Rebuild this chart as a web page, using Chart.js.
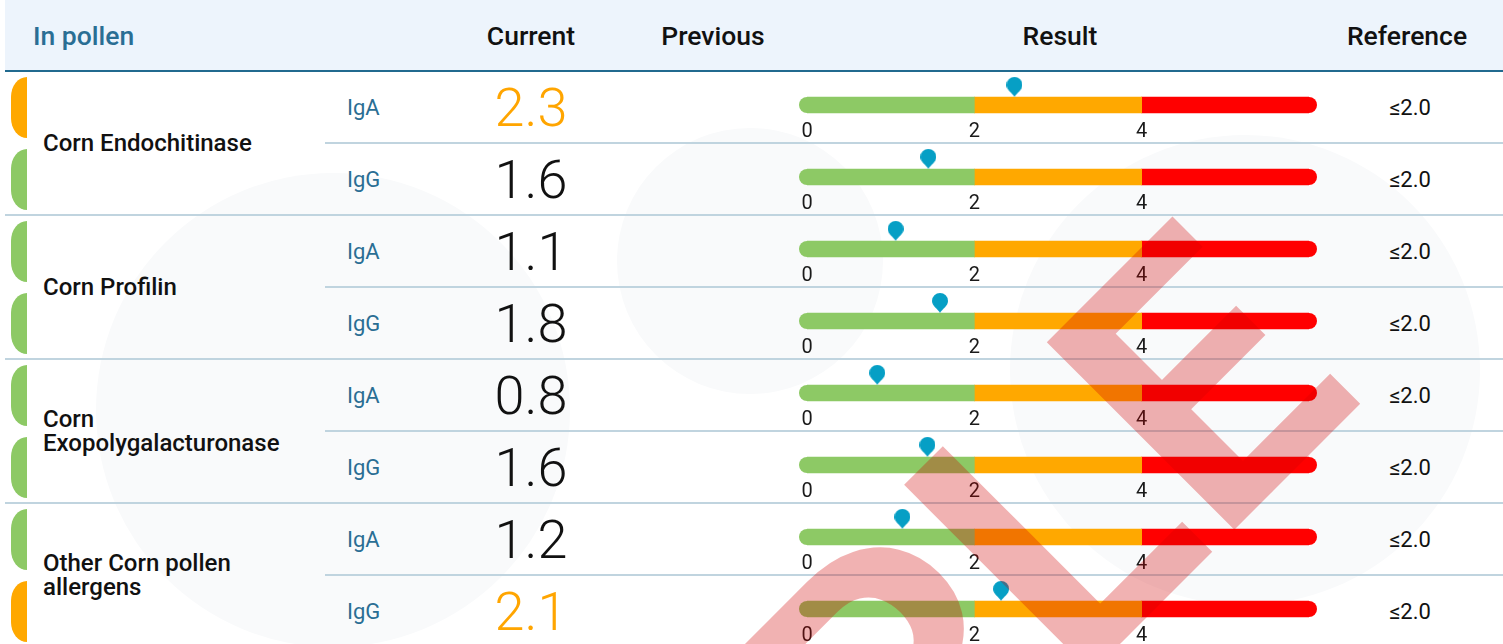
<!DOCTYPE html>
<html>
<head>
<meta charset="utf-8">
<script src="https://cdn.jsdelivr.net/npm/chart.js@4.4.0/dist/chart.umd.min.js"></script>
<style>
  body { margin: 0; width: 1503px; height: 644px; overflow: hidden; background: #fff; font-family: Roboto, sans-serif; position: relative; }
  #bg, #wm { position: absolute; left: 0; top: 0; }
  #wm { pointer-events: none; z-index: 10; }
  #table { position: absolute; left: 0; top: 0; width: 1503px; height: 644px; z-index: 1; }
  .head { position: absolute; left: 5px; top: 0; width: 1498px; height: 70px; background: #edf4fc; border-bottom: 2px solid #216a8f; }
  .hcell { position: absolute; top: 1px; height: 70px; line-height: 70px; font-size: 26.5px; font-weight: 500; color: #111; white-space: nowrap; }
  .hc { transform: translateX(-50%); }
  .line { position: absolute; height: 2px; background: #c0d4df; }
  .tab { position: absolute; left: 11px; width: 16px; height: 61px; border-radius: 16px 0 0 16px / 20px 0 0 20px; }
  .group { position: absolute; left: 43px; width: 250px; display: flex; align-items: center; font-size: 24px; line-height: 24px; font-weight: 500; color: #111; }
  .sub { position: absolute; left: 347px; height: 70px; line-height: 70px; font-size: 22px; color: #2a6e94; }
  .cur { position: absolute; height: 70px; line-height: 70px; font-size: 54px; font-weight: 300; transform: translateX(-50%); }
  .ref { position: absolute; height: 70px; line-height: 70px; font-size: 22px; color: #111; transform: translateX(-50%); }
  .res { position: absolute; left: 780px; width: 560px; height: 70px; }
</style>
</head>
<body>
<svg id="bg" width="1503" height="644">
  <circle cx="333" cy="410" r="237" fill="#f9fafb"/>
  <circle cx="750" cy="261" r="133" fill="#f9fafb"/>
  <circle cx="1245" cy="370" r="235" fill="#f9fafb"/>
</svg>
<div id="table"></div>
<svg id="wm" width="1503" height="644">
  <text transform="translate(1366,398) rotate(-45)" text-anchor="end" font-family="Roboto" font-weight="700" font-size="373" fill="rgba(210,0,0,0.3)">SAMPLE</text>
</svg>
<script>
const headers = ['In pollen', 'Current', 'Previous', 'Result', 'Reference'];
const groups = ['Corn Endochitinase', 'Corn Profilin', 'Corn Exopolygalacturonase', 'Other Corn pollen allergens'];
const antibodies = ['IgA', 'IgG'];
const currentValues = [2.3, 1.6, 1.1, 1.8, 0.8, 1.6, 1.2, 2.1];
const markerValues = [2.48, 1.45, 1.06, 1.59, 0.84, 1.44, 1.14, 2.32];
const referenceLimit = 2.0;
const bandLimits = [0, 2, 4, 6];
const bandColors = ['#8dc965', '#ffa800', '#ff0000'];
const resultTicks = [0, 2, 4];

const table = document.getElementById('table');
const ROW = 72, TOP = 72;

function add(cls, css, text) {
  const d = document.createElement('div');
  d.className = cls;
  Object.assign(d.style, css);
  if (text !== undefined) d.textContent = text;
  table.appendChild(d);
  return d;
}

// header
add('head', {});
add('hcell', { left: '33px', color: '#2a6e94' }, headers[0]);
add('hcell hc', { left: '531px' }, headers[1]);
add('hcell hc', { left: '713px' }, headers[2]);
add('hcell hc', { left: '1060px' }, headers[3]);
add('hcell hc', { left: '1407px' }, headers[4]);

// marker shape
const drop = document.createElement('canvas');
drop.width = 16; drop.height = 56;
const dc = drop.getContext('2d');
dc.fillStyle = '#069fc5';
dc.beginPath();
dc.moveTo(8, 20);
dc.bezierCurveTo(6, 16, 0, 13, 0, 8);
dc.arc(8, 8, 8, Math.PI, 0);
dc.bezierCurveTo(16, 13, 10, 16, 8, 20);
dc.fill();

// round ends of the scale bar
const capPlugin = {
  id: 'caps',
  beforeDatasetsDraw(chart) {
    const { ctx, scales: { x } } = chart;
    const yc = chart.getDatasetMeta(0).data[0].y;
    ctx.save();
    ctx.fillStyle = bandColors[0];
    ctx.beginPath();
    ctx.arc(x.getPixelForValue(bandLimits[0]), yc, 8, Math.PI / 2, Math.PI * 1.5);
    ctx.fill();
    ctx.fillStyle = bandColors[2];
    ctx.beginPath();
    ctx.arc(x.getPixelForValue(bandLimits[3]), yc, 8, -Math.PI / 2, Math.PI / 2);
    ctx.fill();
    ctx.restore();
  }
};

groups.forEach((g, gi) => {
  const gTop = TOP + gi * ROW * 2;
  add('group', { top: gTop + 'px', height: (ROW * 2 - 2) + 'px' }, g);
  add('line', { left: '5px', width: '1498px', top: (gTop + ROW * 2 - 2) + 'px' });
});

currentValues.forEach((v, i) => {
  const top = TOP + i * ROW;
  const ab = antibodies[i % 2];
  const high = v > referenceLimit;
  add('tab', { top: (top + 5) + 'px', background: high ? bandColors[1] : bandColors[0] });
  add('sub', { top: (top + 1) + 'px' }, ab);
  add('cur', { top: (top + 1) + 'px', left: '531px', color: high ? '#ffa500' : '#111' }, v.toFixed(1));
  add('ref', { top: (top + 1) + 'px', left: '1410px' }, '\u2264' + referenceLimit.toFixed(1));
  if (i % 2 === 0) add('line', { left: '325px', width: '1178px', top: (top + ROW - 2) + 'px' });

  const box = add('res', { top: top + 'px' });
  const cv = document.createElement('canvas');
  box.appendChild(cv);

  new Chart(cv, {
    type: 'bar',
    data: {
      labels: [ab],
      datasets: [
        ...bandColors.map((c, k) => ({
          data: [[bandLimits[k], bandLimits[k + 1]]],
          backgroundColor: c,
          grouped: false,
          barThickness: 16,
          borderSkipped: false,
          borderRadius: 0,
          order: 1
        })),
        {
          type: 'scatter',
          data: [{ x: markerValues[i], y: ab }],
          pointStyle: drop,
          pointRadius: 8,
          clip: false,
          order: 0
        }
      ]
    },
    options: {
      indexAxis: 'y',
      responsive: true,
      maintainAspectRatio: false,
      animation: false,
      events: [],
      layout: { padding: { top: 20, bottom: 0, left: 27, right: 31 } },
      plugins: { legend: { display: false }, tooltip: { enabled: false } },
      scales: {
        x: {
          type: 'linear',
          min: bandLimits[0], max: bandLimits[3],
          grid: { display: false, drawTicks: false },
          border: { display: false },
          afterBuildTicks: s => { s.ticks = resultTicks.map(t => ({ value: t })); },
          afterFit: s => { s.height = 24; },
          ticks: {
            padding: 2, color: '#1a1a1a', autoSkip: false, maxRotation: 0,
            font: () => ({ family: 'Roboto', size: 20, weight: 'normal' })
          }
        },
        y: { display: false }
      }
    },
    plugins: [capPlugin]
  });
});
</script>
</body>
</html>
